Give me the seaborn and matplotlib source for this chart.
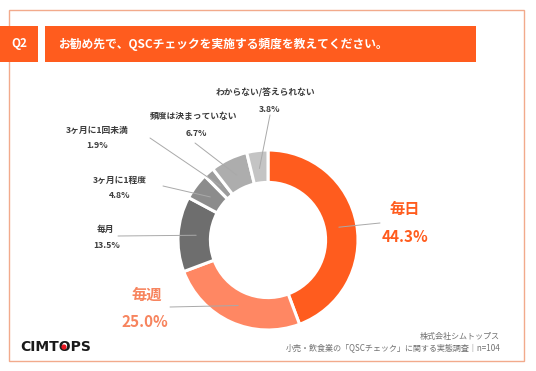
import numpy as np
import matplotlib
matplotlib.use("Agg")
import matplotlib.pyplot as plt
import matplotlib.patches as mpatches
import seaborn as sns

# data
labels = ["毎日", "毎週", "毎月", "3ヶ月に1程度", "3ヶ月に1回未満", "頻度は決まっていない", "わからない/答えられない"]
values = [44.3, 25.0, 13.5, 4.8, 1.9, 6.7, 3.8]
colors = ["#FF5C1E", "#FF8763", "#6E6E6E", "#8C8C8C", "#9C9C9C", "#ADADAD", "#C4C4C4"]
title = "お勧め先で、QSCチェックを実施する頻度を教えてください。"
footer1 = "株式会社シムトップス"
footer2 = "小売・飲食業の「QSCチェック」に関する実態調査｜n=104"

sns.set_theme(style="white")
plt.rcParams["font.family"] = ["Noto Sans CJK JP", "DejaVu Sans"]

W, H = 536, 371
fig = plt.figure(figsize=(W / 100, H / 100), dpi=100)
fig.patch.set_facecolor("white")

# pie placement (pixels)
cx, cy, R = 268, 240, 90
pie_ax = fig.add_axes([(cx - R) / W, (H - cy - R) / H, 2 * R / W, 2 * R / H])
wedges, _ = pie_ax.pie(values, colors=colors, startangle=90, counterclock=False,
                       radius=1, wedgeprops=dict(width=0.36, edgecolor="white", linewidth=2.2))
pie_ax.set_xlim(-1, 1)
pie_ax.set_ylim(-1, 1)
pie_ax.axis("off")

# overlay in pixel coords
ov = fig.add_axes([0, 0, 1, 1], zorder=5)
ov.set_xlim(0, W)
ov.set_ylim(H, 0)
ov.axis("off")
ov.patch.set_alpha(0)

ov.add_patch(mpatches.Rectangle((9, 10), 515, 351, fill=False, edgecolor="#F2AA8C", linewidth=1))
ov.add_patch(mpatches.Rectangle((0, 26), 38, 36, facecolor="#FF5C1E", edgecolor="none"))
ov.add_patch(mpatches.Rectangle((45, 26), 431, 36, facecolor="#FF5C1E", edgecolor="none"))
ov.text(19, 44, "Q2", color="white", fontsize=8.5, fontweight="bold", ha="center", va="center")
ov.text(58, 44, title, color="white", fontsize=8.5, fontweight="bold", ha="left", va="center")

# label positions: (name xy, pct xy, line start)
lab_pos = [
    ((405, 209), (405, 237), (380, 223)),
    ((147, 295), (145, 322), (170, 307)),
    ((105, 229), (107, 245), (118, 236)),
    ((120, 180), (120, 196), (163, 186)),
    ((97, 130), (97, 146), (150, 138)),
    ((194, 117), (196, 133), (195, 143)),
    ((265, 93), (270, 110), (270, 115)),
]

cum = np.cumsum([0] + values[:-1])
for i, (lab, v) in enumerate(zip(labels, values)):
    mid = np.deg2rad(90 - (cum[i] + v / 2) * 3.6)
    px = cx + 0.8 * R * np.cos(mid)
    py = cy - 0.8 * R * np.sin(mid)
    (nx, ny), (qx, qy), (lx, ly) = lab_pos[i]
    ov.plot([lx, px], [ly, py], color="#A9A9A9", linewidth=0.7, zorder=6)
    if i == 0:
        c, fs = "#FF5C1E", 11
    elif i == 1:
        c, fs = "#F7845E", 11
    else:
        c, fs = "#3C3C3C", 6.3
    ov.text(nx, ny, lab, color=c, fontsize=fs, fontweight="bold", ha="center", va="center", zorder=7)
    ov.text(qx, qy, f"{v:.1f}%", color=c, fontsize=fs, fontweight="bold", ha="center", va="center", zorder=7)

# footer
ov.text(20, 347, "CIMTOPS", color="#1A1A1A", fontsize=10, fontweight="bold", ha="left", va="center",
        family=["DejaVu Sans"])
ov.add_patch(mpatches.Circle((64, 347), 2.6, facecolor="#E8141E", edgecolor="none", zorder=8))
ov.text(500, 337, footer1, color="#707070", fontsize=5.8, ha="right", va="center")
ov.text(500, 348, footer2, color="#707070", fontsize=5.8, ha="right", va="center")

fig.savefig("out.png", dpi=100)
